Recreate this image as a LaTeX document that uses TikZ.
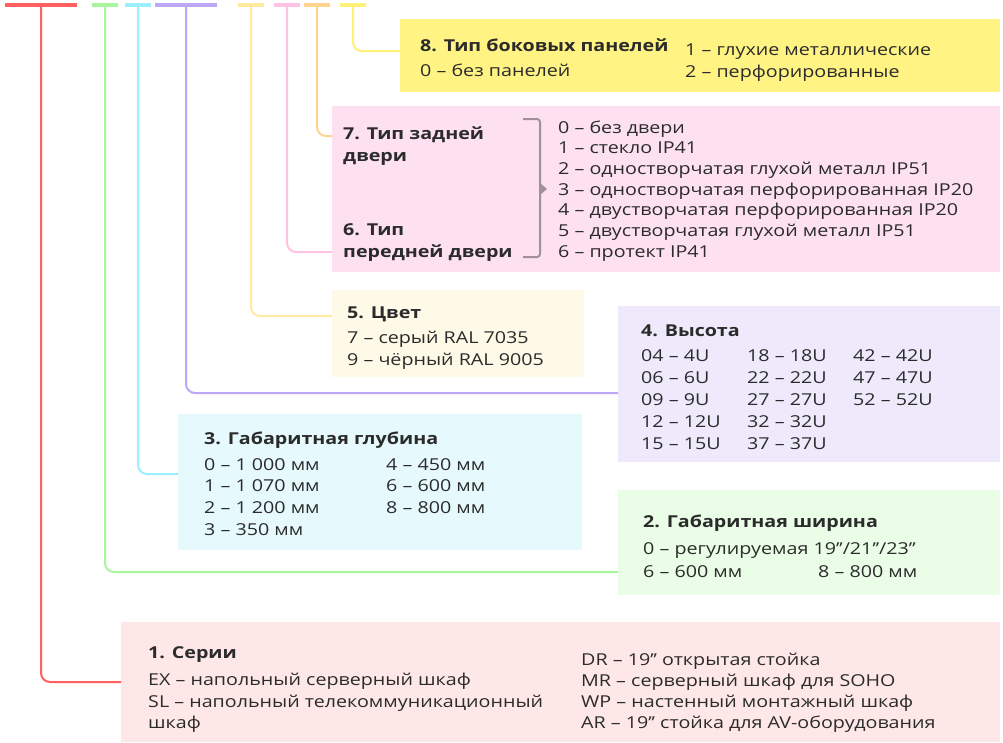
\documentclass[tikz,border=0pt]{standalone}
\usepackage{fontspec}
\setmainfont{Open Sans}[FakeStretch=1.2]
\definecolor{txtc}{HTML}{2B2B2B}
\definecolor{lred}{HTML}{FF5F5F}\definecolor{fred}{HTML}{FDE7E7}
\definecolor{lgreen}{HTML}{A9F59B}\definecolor{fgreen}{HTML}{E9FDE7}
\definecolor{lcyan}{HTML}{9BEEFB}\definecolor{fcyan}{HTML}{E6FAFD}
\definecolor{lpurple}{HTML}{BDA8F7}\definecolor{fpurple}{HTML}{EEEAFC}
\definecolor{lcream}{HTML}{FFEBA0}\definecolor{fcream}{HTML}{FFF9E7}
\definecolor{lpink}{HTML}{FFC2E2}\definecolor{fpink}{HTML}{FDE1F1}
\definecolor{lorange}{HTML}{FFD491}
\definecolor{lyellow}{HTML}{FFF176}\definecolor{fyellow}{HTML}{FFF384}
\definecolor{bracec}{HTML}{A0909A}
\begin{document}
\begin{tikzpicture}[x=1pt,y=-1pt,
  panel/.style={draw=none,inner sep=0,anchor=north west},
  txt/.style={anchor=base west,inner sep=0,text=txtc,font=\fontsize{16.4}{21}\selectfont},
  ttl/.style={txt,font=\fontsize{16.4}{21}\selectfont\bfseries},
  bar/.style={line width=3.5pt},
  conn/.style={line width=2pt,rounded corners=9pt}]
\useasboundingbox (0,0) rectangle (1003,742);
% panels
\node[panel,fill=fyellow,minimum width=600pt,minimum height=73pt] (s8) at (400,19) {};
\node[panel,fill=fpink,minimum width=668pt,minimum height=166pt] (s67) at (332,106) {};
\node[panel,fill=fcream,minimum width=252pt,minimum height=87pt] (s5) at (332,290) {};
\node[panel,fill=fpurple,minimum width=382pt,minimum height=156pt] (s4) at (618,306) {};
\node[panel,fill=fcyan,minimum width=404pt,minimum height=136pt] (s3) at (178,414) {};
\node[panel,fill=fgreen,minimum width=382pt,minimum height=105pt] (s2) at (618,490) {};
\node[panel,fill=fred,minimum width=879pt,minimum height=120pt] (s1) at (121,622) {};
% bars and junctions
\foreach \n/\a/\m/\b/\c in {1/5/41/77/lred,2/92/105/118/lgreen,3/125/138/151/lcyan,4/155/186/217/lpurple,5/238/251/264/lcream,6/274/287/300/lpink,7/304/317/330/lorange,8/340/353/366/lyellow}{
  \coordinate (ba\n) at (\a,5);
  \coordinate (bm\n) at (\m,5);
  \coordinate (bb\n) at (\b,5);
  \draw[bar,\c] (ba\n) -- (bb\n);
}
\coordinate (j1) at (121,682);
\coordinate (j2) at (618,572);
\coordinate (j3) at (178,474);
\coordinate (j4) at (618,393);
\coordinate (j5) at (332,316);
\coordinate (j6) at (332,252);
\coordinate (j7) at (332,136);
\coordinate (j8) at (400,51);
\draw[conn,lred] (bm1) |- (j1);
\draw[conn,lgreen] (bm2) |- (j2);
\draw[conn,lcyan] (bm3) |- (j3);
\draw[conn,lpurple] (bm4) |- (j4);
\draw[conn,lcream] (bm5) |- (j5);
\draw[conn,lpink] (bm6) |- (j6);
\draw[conn,lorange] (bm7) |- (j7);
\draw[conn,lyellow] (bm8) |- (j8);
% box 8
\node[ttl] (t8) at (420,51) {8. Тип боковых панелей};
\node[txt] (t8a) at (420,76) {0 – без панелей};
\node[txt] (t8b) at (685,55) {1 – глухие металлические};
\node[txt] (t8c) at (685,77) {2 – перфорированные};
% box 7/6
\node[ttl] (t7a) at (343,139) {7. Тип задней};
\node[ttl] (t7b) at (343,161) {двери};
\node[ttl] (t6a) at (343,235) {6. Тип};
\node[ttl] (t6b) at (343,257) {передней двери};
\coordinate (br1) at (523,119);
\coordinate (br2) at (540,119);
\coordinate (br3) at (540,257);
\coordinate (br4) at (523,257);
\draw[bracec,line width=2pt,rounded corners=3pt] (br1) -- (br2) -- (br3) -- (br4);
\coordinate (tr1) at (540,183);
\coordinate (tr2) at (547,189);
\coordinate (tr3) at (540,195);
\fill[bracec] (tr1) -- (tr2) -- (tr3) -- cycle;
\foreach \t [count=\i from 0] in {0 – без двери,1 – стекло IP41,2 – одностворчатая глухой металл IP51,3 – одностворчатая перфорированная IP20,4 – двустворчатая перфорированная IP20,5 – двустворчатая глухой металл IP51,6 – протект IP41}{
  \node[txt] (d\i) at (558,133+20.7*\i) {\t};
}
% box 5
\node[ttl] (t5) at (347,318) {5. Цвет};
\node[txt] (t5a) at (347,343) {7 – серый RAL 7035};
\node[txt] (t5b) at (347,365) {9 – чёрный RAL 9005};
% box 4
\node[ttl] (t4) at (641,336) {4. Высота};
\foreach \t [count=\i from 0] in {04 – 4U,06 – 6U,09 – 9U,12 – 12U,15 – 15U}{
  \node[txt] (ha\i) at (641,361+22*\i) {\t};
}
\foreach \t [count=\i from 0] in {18 – 18U,22 – 22U,27 – 27U,32 – 32U,37 – 37U}{
  \node[txt] (hb\i) at (747,361+22*\i) {\t};
}
\foreach \t [count=\i from 0] in {42 – 42U,47 – 47U,52 – 52U}{
  \node[txt] (hc\i) at (853,361+22*\i) {\t};
}
% box 3
\node[ttl] (t3) at (204,444) {3. Габаритная глубина};
\foreach \t [count=\i from 0] in {0 – 1 000 мм,1 – 1 070 мм,2 – 1 200 мм,3 – 350 мм}{
  \node[txt] (ga\i) at (204,470+21.7*\i) {\t};
}
\foreach \t [count=\i from 0] in {4 – 450 мм,6 – 600 мм,8 – 800 мм}{
  \node[txt] (gb\i) at (386,470+21.7*\i) {\t};
}
% box 2
\node[ttl] (t2) at (643,527) {2. Габаритная ширина};
\node[txt] (t2a) at (643,554) {0 – регулируемая 19’’/21’’/23’’};
\node[txt] (t2b) at (643,577) {6 – 600 мм};
\node[txt] (t2c) at (818,577) {8 – 800 мм};
% box 1
\node[ttl] (t1) at (148,658) {1. Серии};
\node[txt] (t1a) at (148,685) {EX – напольный серверный шкаф};
\node[txt] (t1b) at (148,707) {SL – напольный телекоммуникационный};
\node[txt] (t1c) at (148,728) {шкаф};
\node[txt] (t1d) at (581,665) {DR – 19’’ открытая стойка};
\node[txt] (t1e) at (581,686) {MR – серверный шкаф для SOHO};
\node[txt] (t1f) at (581,707) {WP – настенный монтажный шкаф};
\node[txt] (t1g) at (581,728) {AR – 19’’ стойка для AV-оборудования};
\end{tikzpicture}
\end{document}
